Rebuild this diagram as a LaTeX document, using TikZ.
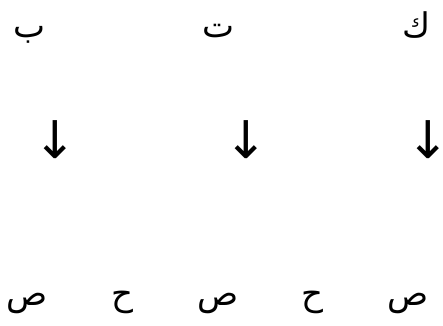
\documentclass[tikz,border=0pt]{standalone}
\usepackage{fontspec}
\usepackage{tikz}
\newfontfamily\arabicfont[Script=Arabic]{DejaVu Sans}
\newfontfamily\symbfont{DejaVu Sans}
\TeXXeTstate=1

\begin{document}
\begin{tikzpicture}[x=1pt,y=1pt,
  letter/.style={font=\arabicfont\fontsize{34}{36}\selectfont,anchor=base,inner sep=0pt},
  downarr/.style={font=\symbfont\fontsize{52}{56}\selectfont,inner sep=0pt}]
\useasboundingbox (0,0) rectangle (443,325);

% ---------- root letters ----------
\node[letter] (rootB) at (30,288) {\beginR ب\endR};
\node[letter] (rootT) at (218,288) {\beginR ت\endR};
\node[letter] (rootK) at (417,288) {\beginR ك\endR};

% ---------- arrows ----------
\node[downarr] (arrB) at (55,185) {↓};
\node[downarr] (arrT) at (246,185) {↓};
\node[downarr] (arrK) at (428,185) {↓};

% ---------- syllable pattern ----------
\foreach \x/\s/\n in {27/ص/one,122/ح/two,218/ص/three,312/ح/four,408/ص/five}
  \node[letter] (syl\n) at (\x,20) {\beginR \s\endR};
\end{tikzpicture}
\end{document}
